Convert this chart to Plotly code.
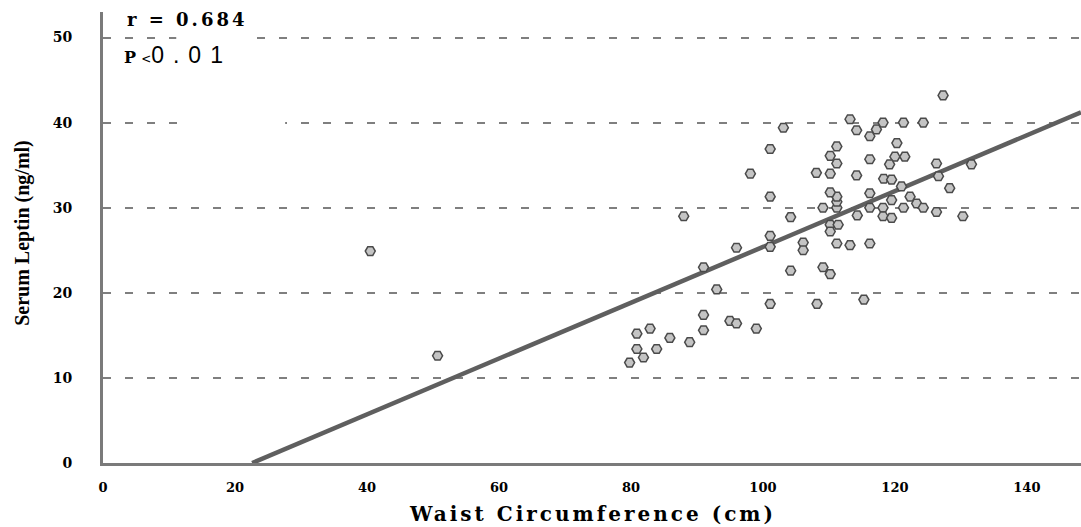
import plotly.graph_objects as go

# Scatter data: waist circumference (cm) vs serum leptin (ng/ml)
waist = [40.5, 50.7,
         79.8, 81.9, 80.9, 83.9, 80.9, 82.9, 85.9, 88.9, 91.0, 91.0, 95.0, 96.0, 99.0,
         93.0, 91.0, 88.0, 96.0, 101.1, 101.1, 101.1, 101.1, 98.1, 101.1, 103.1,
         104.2, 104.2, 106.1, 106.1, 108.2, 109.1, 110.2, 111.2, 113.2, 116.2, 115.3,
         110.2, 110.2, 111.4, 109.1, 111.2, 111.2, 111.2, 110.2, 114.3, 116.2, 118.2,
         118.2, 116.2, 118.3, 119.5, 114.2, 108.1, 110.2, 111.2, 110.2, 111.2, 116.2,
         116.2, 117.2, 118.2, 114.2, 113.2, 121.3, 124.3, 127.3, 120.3, 120.0, 121.5,
         119.2, 126.3, 131.6, 126.6, 128.3, 121.0, 122.3, 119.5, 123.3, 124.3, 121.3,
         126.3, 119.5, 130.3]
leptin = [24.9, 12.6,
          11.8, 12.4, 13.4, 13.4, 15.2, 15.8, 14.7, 14.2, 15.6, 17.4, 16.7, 16.4, 15.8,
          20.4, 23.0, 29.0, 25.3, 18.7, 26.7, 25.4, 31.3, 34.0, 36.9, 39.4,
          28.9, 22.6, 25.9, 25.0, 18.7, 23.0, 22.2, 25.8, 25.6, 25.8, 19.2,
          28.0, 27.2, 28.0, 30.0, 30.0, 30.7, 31.3, 31.8, 29.1, 30.0, 30.0,
          29.0, 31.7, 33.4, 33.3, 33.8, 34.1, 34.0, 35.2, 36.1, 37.2, 35.7,
          38.4, 39.2, 40.0, 39.1, 40.4, 40.0, 40.0, 43.2, 37.6, 36.0, 36.0,
          35.1, 35.2, 35.1, 33.7, 32.3, 32.5, 31.3, 30.9, 30.5, 30.0, 30.0,
          29.5, 28.8, 29.0]

# Regression line end points
fit_x = [22.6, 148.2]
fit_y = [0.0, 41.2]

x_ticks = [0, 20, 40, 60, 80, 100, 120, 140]
y_ticks = [0, 10, 20, 30, 40, 50]

r_text = "r = 0.684"
p_label = "P"
p_value = "0.01"
x_title = "Waist Circumference (cm)"
y_title = "Serum Leptin (ng/ml)"

fig = go.Figure()

fig.add_trace(go.Scatter(
    x=fit_x, y=fit_y, mode="lines",
    line=dict(color="#5f5f5f", width=4.5),
    hoverinfo="skip", showlegend=False))

fig.add_trace(go.Scatter(
    x=waist, y=leptin, mode="markers",
    marker=dict(symbol="hexagon2", size=10, color="#c4c4c4",
                line=dict(color="#4a4a4a", width=1.5)),
    showlegend=False))

fig.update_xaxes(
    range=[0, 148.2], tickvals=x_ticks, ticktext=[str(v) for v in x_ticks],
    showgrid=False, zeroline=False,
    showline=True, linecolor="#7a7a7a", linewidth=3,
    ticks="", tickfont=dict(family="DejaVu Serif", size=13, color="#000000", weight="bold"),
    ticklabelstandoff=10)

fig.update_yaxes(
    range=[0, 53], tickvals=y_ticks, ticktext=[str(v) for v in y_ticks],
    showgrid=True, gridcolor="#7f7f7f", gridwidth=2, griddash="8px,14px",
    zeroline=False,
    showline=True, linecolor="#7a7a7a", linewidth=3,
    ticks="", tickfont=dict(family="DejaVu Serif", size=14, color="#000000", weight="bold"),
    ticklabelstandoff=25)

# white gaps in the upper-left grid lines (behind the text box)
fig.add_shape(type="rect", xref="x", yref="y", x0=11.1, x1=23.2, y0=49, y1=51,
              fillcolor="white", line=dict(width=0), layer="between")
fig.add_shape(type="rect", xref="x", yref="y", x0=11.7, x1=27.6, y0=39, y1=41,
              fillcolor="white", line=dict(width=0), layer="between")

fig.add_annotation(
    x=0.022, y=1.01, xref="paper", yref="paper", xanchor="left", yanchor="top",
    text="<span style='letter-spacing:3px'>" + r_text + "</span>", showarrow=False,
    font=dict(family="DejaVu Serif", size=18, color="#000000", weight="bold"))

fig.add_annotation(
    x=0.019, y=0.905, xref="paper", yref="paper", xanchor="left", yanchor="middle",
    text=("<b>" + p_label + "</b> <span style='font-size:12px'>&lt;</span>"
          "<span style='font-family:Liberation Sans;font-size:23px;font-weight:normal;"
          "letter-spacing:9px'>" + p_value + "</span>"),
    showarrow=False,
    font=dict(family="DejaVu Serif", size=16, color="#000000"))

fig.add_annotation(
    x=0.5, y=-0.113, xref="paper", yref="paper", xanchor="center", yanchor="middle",
    text="<span style='letter-spacing:3px'>" + x_title + "</span>", showarrow=False,
    font=dict(family="DejaVu Serif", size=20, color="#000000", weight="bold"))

fig.add_annotation(
    x=-0.082, y=0.51, xref="paper", yref="paper", xanchor="center", yanchor="middle",
    text=y_title, showarrow=False, textangle=-90,
    font=dict(family="Liberation Serif", size=20, color="#000000", weight="bold"))

fig.update_layout(
    width=1081, height=527,
    margin=dict(l=103, r=0, t=12, b=64),
    paper_bgcolor="white", plot_bgcolor="white",
    showlegend=False)

# remove the default 8px page margin so the figure fills the window exactly
fig.write_html("out.html", config={"displayModeBar": False},
               post_script="document.body.style.margin='0';")
